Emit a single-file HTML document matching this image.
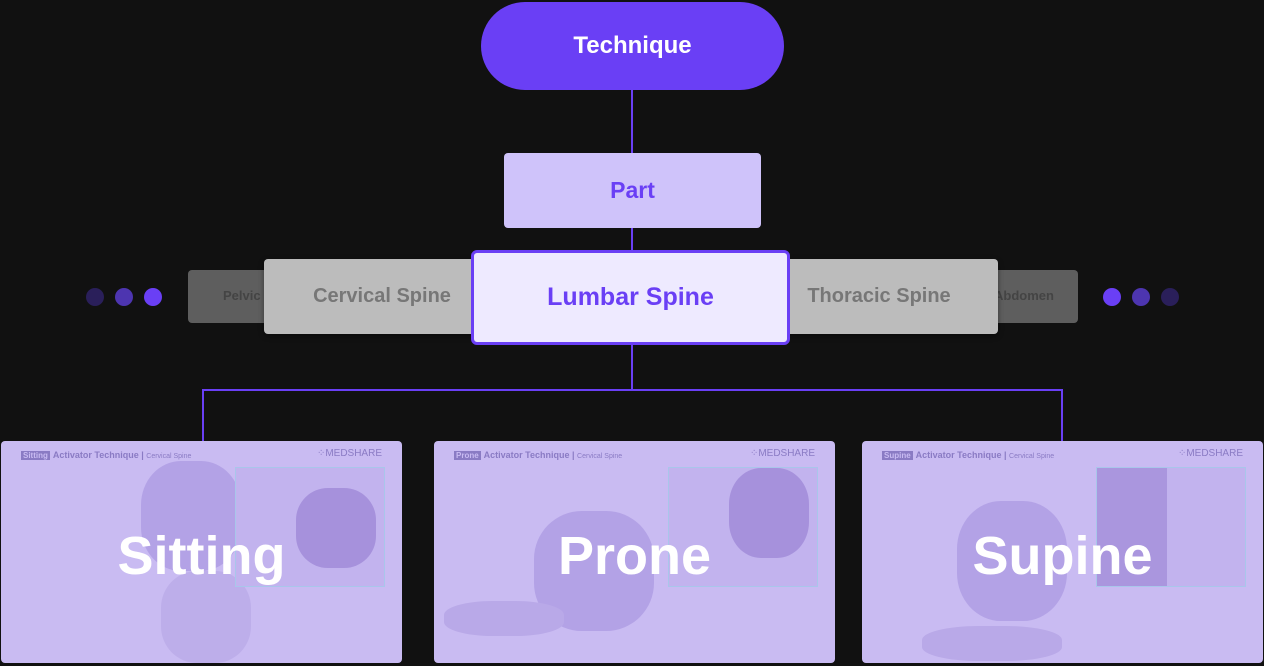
<!DOCTYPE html>
<html><head><style>
body{margin:0;width:1264px;height:666px;background:#111111;position:relative;overflow:hidden;font-family:"Liberation Sans","Noto Sans CJK KR",sans-serif;}
.a{position:absolute;box-sizing:border-box;}
.c{display:flex;align-items:center;justify-content:center;font-weight:bold;}
.ln{position:absolute;background:#6a3ff5;}
.dot{position:absolute;width:18px;height:18px;border-radius:50%;top:288px;}
.card{position:absolute;top:441px;width:401px;height:222px;border-radius:4px;background:#c9bbf2;overflow:hidden;}
.hd{position:absolute;top:9px;left:20px;font-size:9px;color:#8a7bc4;font-weight:bold;white-space:nowrap;}
.hd b{background:#8a7bc4;color:#c9bbf2;padding:0 2px;font-size:8px;margin-right:3px;}
.hd span{font-weight:normal;font-size:7px;}
.ms{position:absolute;top:7px;right:20px;font-size:10px;color:#8a7bc4;}
.ins{position:absolute;top:26px;width:148px;height:118px;border:1px solid #a9c6ea;background:#c2b3ee;overflow:hidden;}
.big{position:absolute;left:0;right:0;top:84px;text-align:center;font-size:54px;font-weight:bold;color:#fff;}
.fig{position:absolute;background:#b3a2e6;border-radius:40%;}
</style></head><body>
<div class="ln" style="left:631px;top:88px;width:2px;height:302px"></div>
<div class="ln" style="left:202px;top:389px;width:861px;height:2px"></div>
<div class="ln" style="left:202px;top:389px;width:2px;height:52px"></div>
<div class="ln" style="left:1061px;top:389px;width:2px;height:52px"></div>
<div class="a c" style="left:481px;top:2px;width:303px;height:88px;border-radius:44px;background:#6a3ff5;color:#fff;font-size:24px">Technique</div>
<div class="a c" style="left:504px;top:153px;width:257px;height:75px;border-radius:4px;background:#cfc3fa;color:#6a3ff5;font-size:23px">Part</div>
<div class="dot" style="left:86px;background:#2a1f5a"></div>
<div class="dot" style="left:115px;background:#4d35b0"></div>
<div class="dot" style="left:144px;background:#6a3ff5"></div>
<div class="dot" style="left:1103px;background:#6a3ff5"></div>
<div class="dot" style="left:1132px;background:#4d35b0"></div>
<div class="dot" style="left:1161px;background:#2a1f5a"></div>
<div class="a" style="left:188px;top:270px;width:120px;height:53px;border-radius:4px;background:#5e5e5e;color:#444;font-size:13px;font-weight:bold;padding:18px 0 0 35px">Pelvic</div>
<div class="a" style="left:944px;top:270px;width:134px;height:53px;border-radius:4px;background:#5e5e5e;color:#444;font-size:13px;font-weight:bold;padding:18px 0 0 50px">Abdomen</div>
<div class="a c" style="left:264px;top:259px;width:236px;height:75px;border-radius:4px;background:#bcbcbc;color:#777;font-size:20px;box-shadow:0 2px 6px rgba(0,0,0,.4)">Cervical Spine</div>
<div class="a c" style="left:760px;top:259px;width:238px;height:75px;border-radius:4px;background:#bcbcbc;color:#777;font-size:20px;padding-left:0;box-shadow:0 2px 6px rgba(0,0,0,.4)"><span style="position:relative;left:0px">Thoracic Spine</span></div>
<div class="a c" style="left:471px;top:250px;width:319px;height:95px;border-radius:6px;background:#eeeaff;border:3px solid #6a3ff5;color:#6a3ff5;font-size:25px">Lumbar Spine</div>

<div class="card" style="left:1px">
<div class="fig" style="left:140px;top:20px;width:100px;height:110px"></div>
<div class="fig" style="left:160px;top:130px;width:90px;height:92px;background:#bdaeea"></div>
<div class="ins" style="left:234px"><div class="fig" style="left:60px;top:20px;width:80px;height:80px;background:#a691dc"></div></div>
<div class="hd"><b>Sitting</b>Activator Technique | <span>Cervical Spine</span></div>
<div class="ms">⁘MEDSHARE</div>
<div class="big">Sitting</div></div>

<div class="card" style="left:434px">
<div class="fig" style="left:100px;top:70px;width:120px;height:120px"></div>
<div class="fig" style="left:10px;top:160px;width:120px;height:35px;background:#b9a9e8"></div>
<div class="ins" style="left:234px"><div class="fig" style="left:60px;top:0px;width:80px;height:90px;background:#a691dc"></div></div>
<div class="hd"><b>Prone</b>Activator Technique | <span>Cervical Spine</span></div>
<div class="ms">⁘MEDSHARE</div>
<div class="big">Prone</div></div>

<div class="card" style="left:862px">
<div class="fig" style="left:95px;top:60px;width:110px;height:120px"></div>
<div class="fig" style="left:60px;top:185px;width:140px;height:35px;background:#b9a9e8"></div>
<div class="ins" style="left:234px"><div class="fig" style="left:0px;top:0px;width:70px;height:118px;background:#aa96de;border-radius:0"></div></div>
<div class="hd"><b>Supine</b>Activator Technique | <span>Cervical Spine</span></div>
<div class="ms">⁘MEDSHARE</div>
<div class="big">Supine</div></div>
</body></html>
